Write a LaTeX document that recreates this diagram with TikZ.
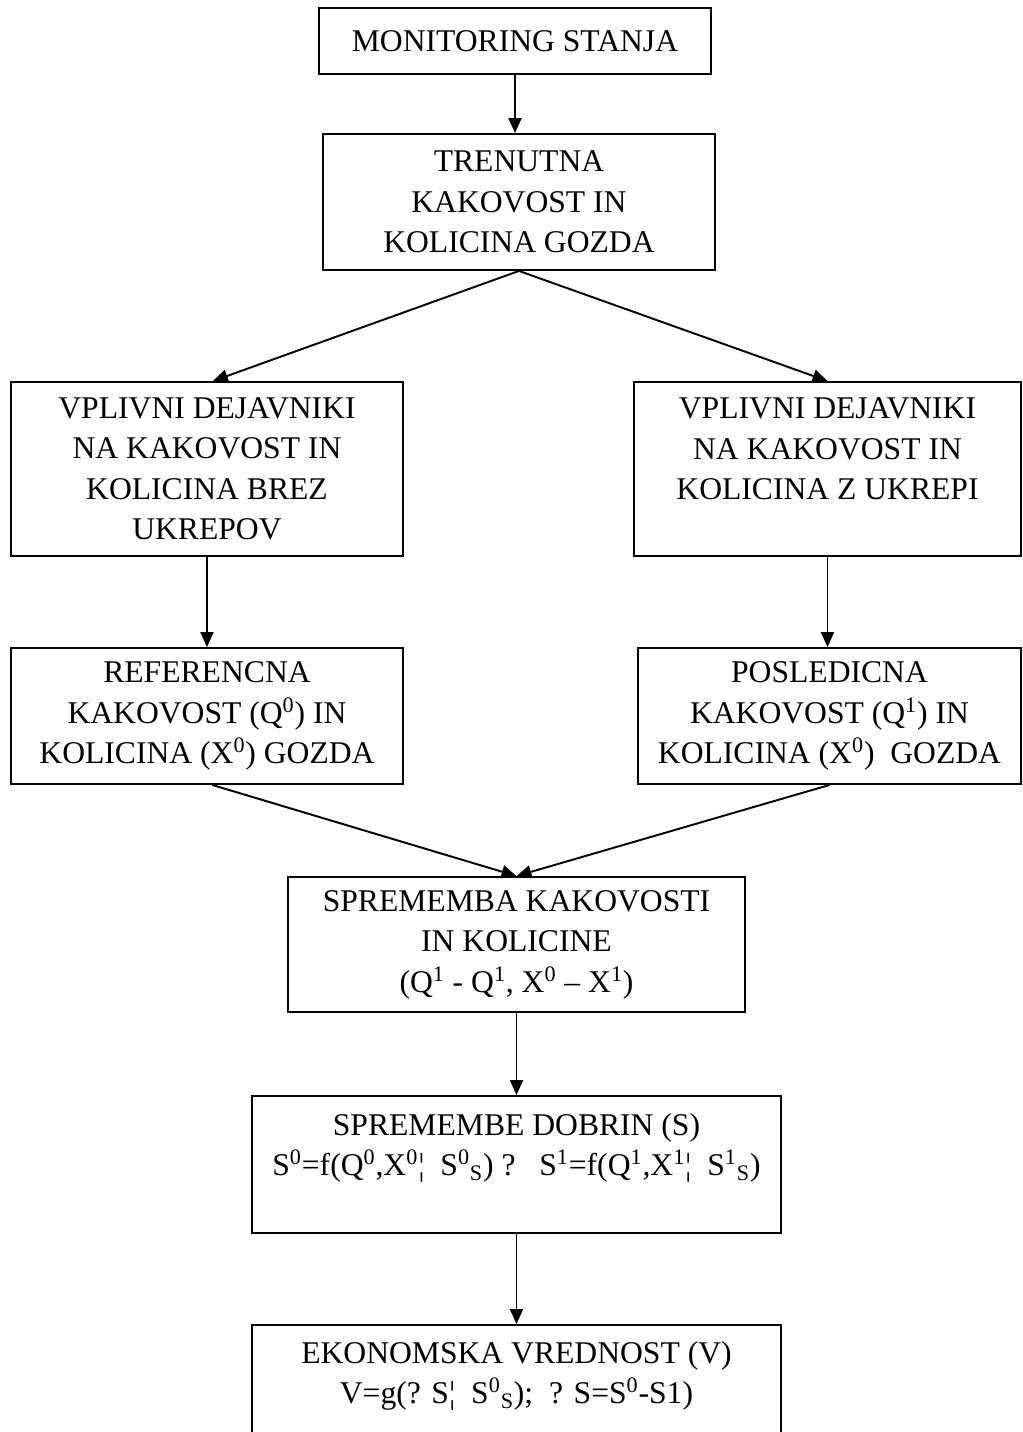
\documentclass[tikz,border=0pt]{standalone}
\usepackage{fontspec}
\setmainfont{Liberation Serif}
\usepackage{tikz}
\usetikzlibrary{arrows.meta,positioning}

\begin{document}
\begin{tikzpicture}[x=0.02cm, y=-0.02cm,
  font=\fontsize{18}{23}\selectfont,
  box/.style={draw, line width=1.1pt, align=center, inner sep=2pt},
  arr/.style={-{Triangle[length=8.5pt, width=7.4pt]}, line width=1.1pt}]
\useasboundingbox (0,0) rectangle (1023,1432);
\node[box, minimum width=7.84cm, minimum height=1.32cm] (mon) at (515,41) {MONITORING STANJA};
\node[box, minimum width=7.84cm, minimum height=2.72cm] (tren) at (519,202) {TRENUTNA\\KAKOVOST IN\\KOLICINA GOZDA};
\node[box, minimum width=7.84cm, minimum height=3.48cm] (brez) at (207,469)
  {VPLIVNI DEJAVNIKI\\NA KAKOVOST IN\\KOLICINA BREZ\\UKREPOV};
\node[box, minimum width=7.74cm, minimum height=3.48cm] (ukrepi) at (827.5,469)
  {VPLIVNI DEJAVNIKI\\NA KAKOVOST IN\\KOLICINA Z UKREPI\\\mbox{}};
\node[box, minimum width=7.84cm, minimum height=2.72cm] (ref) at (207,716)
  {REFERENCNA\\KAKOVOST (Q\textsuperscript{0}) IN\\KOLICINA (X\textsuperscript{0}) GOZDA};
\node[box, minimum width=7.66cm, minimum height=2.72cm] (posl) at (829.5,716)
  {POSLEDICNA\\KAKOVOST (Q\textsuperscript{1}) IN\\KOLICINA (X\textsuperscript{0})~ GOZDA};
\node[box, minimum width=9.14cm, minimum height=2.70cm] (sprem) at (516.5,944.5)
  {SPREMEMBA KAKOVOSTI\\IN KOLICINE\\(Q\textsuperscript{1} - Q\textsuperscript{1}, X\textsuperscript{0} – X\textsuperscript{1})};
\node[box, minimum width=10.58cm, minimum height=2.74cm] (dobrin) at (516.5,1164.5)
  {SPREMEMBE DOBRIN (S)\\S\textsuperscript{0}=f(Q\textsuperscript{0},X\textsuperscript{0}¦~ S\textsuperscript{0}\textsubscript{S}) ?~~~S\textsuperscript{1}=f(Q\textsuperscript{1},X\textsuperscript{1}¦~ S\textsuperscript{1}\textsubscript{S})\\\mbox{}};
\node[box, minimum width=10.58cm, minimum height=2.72cm] (ekon) at (516.5,1393)
  {EKONOMSKA VREDNOST (V)\\V=g(? S¦~ S\textsuperscript{0}\textsubscript{S});~ ? S=S\textsuperscript{0}-S1)\\\mbox{}};
% connectors
\draw[arr] (mon.south) -- (mon.south |- tren.north);
\draw[arr] (tren.south) -- ([xshift=3.4pt]brez.north);
\draw[arr] (tren.south) -- (ukrepi.north);
\draw[arr] (brez) -- (ref);
\draw[arr] (ukrepi.south) -- (ukrepi.south |- posl.north);
\draw[arr] ([xshift=3pt]ref.south) -- (sprem.north);
\draw[arr] (posl.south) -- (sprem.north);
\draw[arr] (sprem) -- (dobrin);
\draw[arr] (dobrin) -- (ekon);
\end{tikzpicture}
\end{document}
